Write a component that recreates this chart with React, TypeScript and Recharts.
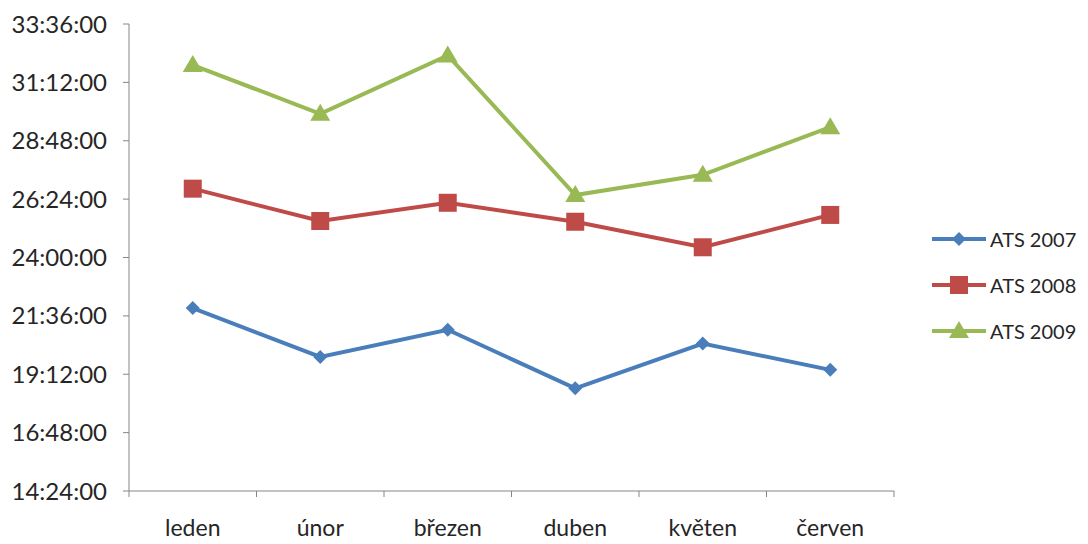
import React from "react";
import { Legend, Line, LineChart, XAxis, YAxis } from "recharts";

const months = ["leden", "únor", "březen", "duben", "květen", "červen"];

// average times in decimal hours
const ats2007 = [21.92, 19.91, 21.03, 18.62, 20.46, 19.38];
const ats2008 = [26.83, 25.5, 26.25, 25.47, 24.42, 25.75];
const ats2009 = [31.91, 29.91, 32.31, 26.57, 27.4, 29.36];

const yTicks = [14.4, 16.8, 19.2, 21.6, 24, 26.4, 28.8, 31.2, 33.6];
const xTicks = [0, 0.5, 1, 1.5, 2, 2.5, 3, 3.5, 4, 4.5, 5, 5.5, 6];

const BLUE = "#4A7EBB";
const RED = "#BE4B48";
const GREEN = "#98B954";
const AXIS = "#868686";
const FONT = "Lato, 'Open Sans', sans-serif";

const data = months.map((m, i) => ({
  x: i + 0.5,
  month: m,
  a2007: ats2007[i],
  a2008: ats2008[i],
  a2009: ats2009[i],
}));

function formatHours(v: number): string {
  const totalMin = Math.round(v * 60);
  const h = Math.floor(totalMin / 60);
  const m = totalMin % 60;
  return `${h}:${String(m).padStart(2, "0")}:00`;
}

function Diamond(props: any) {
  const { cx, cy } = props;
  if (cx == null || cy == null) return null;
  const r = 7;
  return <path d={`M${cx},${cy - r}L${cx + r},${cy}L${cx},${cy + r}L${cx - r},${cy}Z`} fill={BLUE} />;
}

function Square(props: any) {
  const { cx, cy } = props;
  if (cx == null || cy == null) return null;
  return <rect x={cx - 9} y={cy - 9} width={18} height={18} fill={RED} />;
}

function Triangle(props: any) {
  const { cx, cy } = props;
  if (cx == null || cy == null) return null;
  return <path d={`M${cx},${cy - 10}L${cx + 10},${cy + 7}L${cx - 10},${cy + 7}Z`} fill={GREEN} />;
}

// x axis: boundary tick marks on whole numbers, month labels at band centres
function MonthTick(props: any) {
  const { x, y, payload } = props;
  const v = payload.value as number;
  if (Number.isInteger(v)) {
    return <line x1={x} x2={x} y1={y - 6} y2={y} stroke={AXIS} strokeWidth={1} />;
  }
  return (
    <text x={x} y={y + 39} textAnchor="middle" fontSize={23} fill="#262626" fontFamily={FONT}>
      {months[Math.floor(v)]}
    </text>
  );
}

const legendItems = [
  { label: "ATS 2007", color: BLUE, marker: "diamond" },
  { label: "ATS 2008", color: RED, marker: "square" },
  { label: "ATS 2009", color: GREEN, marker: "triangle" },
];

function LegendContent() {
  return (
    <div style={{ fontFamily: FONT }}>
      {legendItems.map((item) => (
        <div key={item.label} style={{ display: "flex", alignItems: "center", height: 46 }}>
          <svg width={56} height={22}>
            <line x1={0} x2={54} y1={11} y2={11} stroke={item.color} strokeWidth={4} />
            {item.marker === "diamond" && <path d="M27,4L34,11L27,18L20,11Z" fill={item.color} />}
            {item.marker === "square" && <rect x={18} y={2} width={18} height={18} fill={item.color} />}
            {item.marker === "triangle" && <path d="M27,1L37,18L17,18Z" fill={item.color} />}
          </svg>
          <span style={{ fontSize: 20, color: "#262626", marginLeft: 2, whiteSpace: "nowrap" }}>{item.label}</span>
        </div>
      ))}
    </div>
  );
}

export default function App() {
  return (
    <div style={{ width: 1080, height: 536, fontFamily: FONT }}>
      <LineChart width={1080} height={536} data={data} margin={{ top: 16, right: 194, bottom: 0, left: 0 }}>
        <XAxis
          dataKey="x"
          type="number"
          domain={[0, 6]}
          ticks={xTicks}
          interval={0}
          height={53}
          stroke={AXIS}
          tickLine={false}
          tickSize={6}
          tickMargin={0}
          tick={<MonthTick />}
        />
        <YAxis
          type="number"
          domain={[14.4, 33.6]}
          ticks={yTicks}
          interval={0}
          width={121}
          stroke={AXIS}
          tickSize={6}
          tickMargin={16}
          tickFormatter={formatHours}
          tick={{ fontSize: 24, fill: "#262626", fontFamily: FONT }}
        />
        {/* centred + middle keeps the legend out of the plot offset; placed by wrapperStyle */}
        <Legend
          layout="horizontal"
          verticalAlign="middle"
          align="center"
          wrapperStyle={{ left: 924, top: 208, width: 156 }}
          content={<LegendContent />}
        />
        <Line dataKey="a2007" name="ATS 2007" stroke={BLUE} strokeWidth={4} dot={<Diamond />} isAnimationActive={false} />
        <Line dataKey="a2008" name="ATS 2008" stroke={RED} strokeWidth={4} dot={<Square />} isAnimationActive={false} />
        <Line dataKey="a2009" name="ATS 2009" stroke={GREEN} strokeWidth={4} dot={<Triangle />} isAnimationActive={false} />
      </LineChart>
    </div>
  );
}
